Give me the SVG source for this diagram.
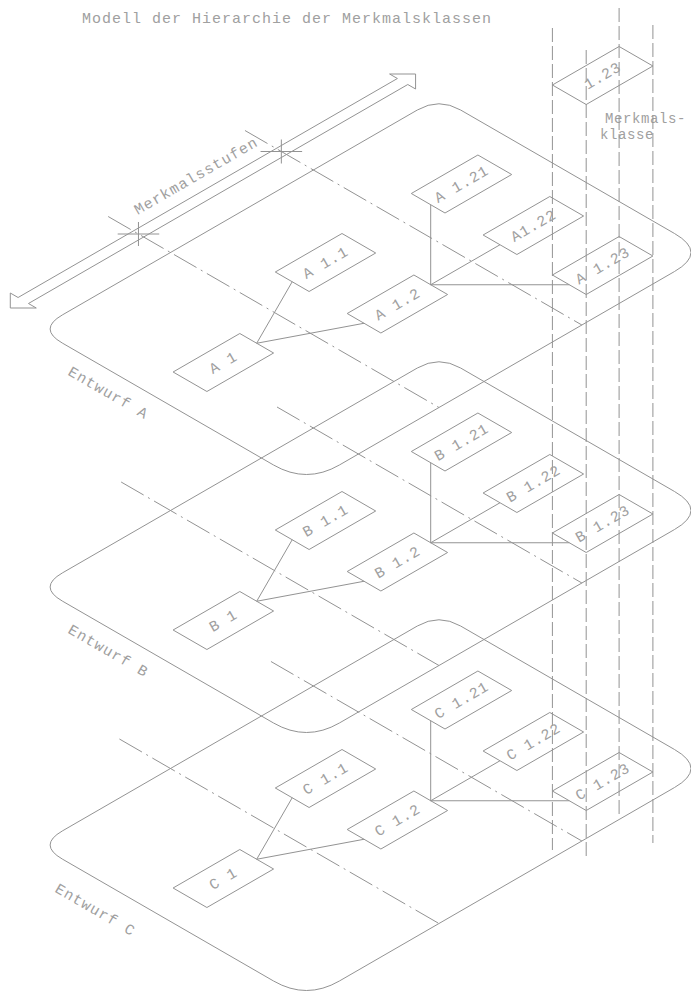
<svg xmlns="http://www.w3.org/2000/svg" width="691" height="991" viewBox="0 0 691 991">
<defs>
<style>
.ln{fill:none;stroke:#939393;stroke-width:1}
.pl{fill:none;stroke:#939393;stroke-width:1;vector-effect:non-scaling-stroke}
.dd{fill:none;stroke:#939393;stroke-width:1;stroke-dasharray:26 5 2 5;vector-effect:non-scaling-stroke}
.vd{fill:none;stroke:#939393;stroke-width:1;stroke-dasharray:14 4}
.tx{font-family:"Liberation Mono","DejaVu Sans Mono",monospace;font-size:15px;fill:#a0a0a0;letter-spacing:1px}
.nt{font-family:"Liberation Mono","DejaVu Sans Mono",monospace;font-size:15px;fill:#a0a0a0;letter-spacing:1px;text-anchor:middle}
</style>
</defs>
<rect width="691" height="991" fill="#ffffff"/>
<text class="tx" x="82" y="23">Modell der Hierarchie der Merkmalsklassen</text>

<!-- planes -->
<g id="planeA-outline" transform="matrix(0.866025,-0.5,0.866025,0.5,38,329)">
<path class="pl" d="M28,0 L438,0 Q463,0 463,25 L463,272 Q463,310 425,310 L38,310 Q0,310 0,272 L0,28 Q0,0 28,0 Z"/>
<line class="dd" x1="153" y1="-72" x2="153" y2="310"/>
<line class="dd" x1="318" y1="-79" x2="318" y2="310"/>
<path class="pl" d="M5,-37 L20,-52 L20,-43 L458,-43 L458,-52 L473,-37 L458,-22 L458,-31 L20,-31 L20,-22 Z"/>
<path class="pl" d="M141,-49 L165,-25 M141,-25 L165,-49 M306,-49 L330,-25 M306,-25 L330,-49"/>
</g>
<g id="planeB-outline" transform="matrix(0.866025,-0.5,0.866025,0.5,38,587)">
<path class="pl" d="M28,0 L438,0 Q463,0 463,25 L463,272 Q463,310 425,310 L38,310 Q0,310 0,272 L0,28 Q0,0 28,0 Z"/>
<line class="dd" x1="153" y1="-57" x2="153" y2="310"/>
<line class="dd" x1="318" y1="-42" x2="318" y2="310"/>
</g>
<g id="planeC-outline" transform="matrix(0.866025,-0.5,0.866025,0.5,38,845)">
<path class="pl" d="M28,0 L438,0 Q463,0 463,25 L463,272 Q463,310 425,310 L38,310 Q0,310 0,272 L0,28 Q0,0 28,0 Z"/>
<line class="dd" x1="153" y1="-59" x2="153" y2="310"/>
<line class="dd" x1="318" y1="-49" x2="318" y2="310"/>
</g>

<text class="nt" x="198.5" y="180" transform="rotate(-30 198.5 180)">Merkmalsstufen</text>
<text class="nt" x="106" y="397" transform="rotate(30 106 397)">Entwurf A</text>
<text class="nt" x="106" y="655" transform="rotate(30 106 655)">Entwurf B</text>
<text class="nt" x="93" y="914" transform="rotate(30 93 914)">Entwurf C</text>
<text class="tx" x="605" y="123" style="font-size:14px;letter-spacing:0.6px">Merkmals-</text>
<text class="tx" x="600" y="139" style="font-size:14px;letter-spacing:0.6px">klasse</text>

<!-- vertical projection lines -->
<g id="guides">
<line class="vd" x1="552.4" y1="28" x2="552.4" y2="850"/>
<line class="vd" x1="586.2" y1="50" x2="586.2" y2="858"/>
<line class="vd" x1="619.1" y1="8" x2="619.1" y2="817"/>
<line class="vd" x1="652.9" y1="25" x2="652.9" y2="843"/>
</g>

<!-- connectors -->
<g id="connectors">
<g id="connA">
<path class="ln" d="M256.7,343.25 L292.2,281.75 M256.7,343.25 L364.1,323.25 M430.7,284.75 L430.7,204.75 M430.7,284.75 L500,244.75 M430.7,284.75 L569.3,284.75"/>
</g>
<g id="connB" transform="translate(0,258)">
<path class="ln" d="M256.7,343.25 L292.2,281.75 M256.7,343.25 L364.1,323.25 M430.7,284.75 L430.7,204.75 M430.7,284.75 L500,244.75 M430.7,284.75 L569.3,284.75"/>
</g>
<g id="connC" transform="translate(0,516)">
<path class="ln" d="M256.7,343.25 L292.2,281.75 M256.7,343.25 L364.1,323.25 M430.7,284.75 L430.7,204.75 M430.7,284.75 L500,244.75 M430.7,284.75 L569.3,284.75"/>
</g>
</g>

<!-- top class node -->
<g id="node-1.23">
<polygon class="ln" points="552.4,85 619.1,46.5 652.9,66 586.2,104.5"/>
<text class="nt" x="605.1" y="79.8" transform="rotate(-30 605.1 79.8)">1.23</text>
</g>

<!-- plane A nodes -->
<g id="planeA">
<g id="nodeA1"><polygon class="ln" points="173.1,372 239.8,333.5 273.6,353 206.9,391.5"/><text class="nt" x="225.8" y="366.8" transform="rotate(-30 225.8 366.8)">A 1</text></g>
<g id="nodeA1.1"><polygon class="ln" points="275.3,272 342,233.5 375.7,253 309.1,291.5"/><text class="nt" x="328" y="266.8" transform="rotate(-30 328 266.8)">A 1.1</text></g>
<g id="nodeA1.2"><polygon class="ln" points="347.2,313.5 413.9,275 447.6,294.5 380.9,333"/><text class="nt" x="399.9" y="308.3" transform="rotate(-30 399.9 308.3)">A 1.2</text></g>
<g id="nodeA1.21"><polygon class="ln" points="411.3,193.5 477.9,155 511.7,174.5 445,213"/><text class="nt" x="464" y="188.3" transform="rotate(-30 464 188.3)">A 1.21</text></g>
<g id="nodeA1.22"><polygon class="ln" points="483.1,235 549.8,196.5 583.6,216 516.9,254.5"/><text class="nt" x="535.9" y="229.8" transform="rotate(-30 535.9 229.8)">A1.22</text></g>
<g id="nodeA1.23"><polygon class="ln" points="552.4,275 619.1,236.5 652.9,256 586.2,294.5"/><text class="nt" x="605.1" y="269.8" transform="rotate(-30 605.1 269.8)">A 1.23</text></g>
</g>

<!-- plane B nodes -->
<g id="planeB" transform="translate(0,258)">
<g id="nodeB1"><polygon class="ln" points="173.1,372 239.8,333.5 273.6,353 206.9,391.5"/><text class="nt" x="225.8" y="366.8" transform="rotate(-30 225.8 366.8)">B 1</text></g>
<g id="nodeB1.1"><polygon class="ln" points="275.3,272 342,233.5 375.7,253 309.1,291.5"/><text class="nt" x="328" y="266.8" transform="rotate(-30 328 266.8)">B 1.1</text></g>
<g id="nodeB1.2"><polygon class="ln" points="347.2,313.5 413.9,275 447.6,294.5 380.9,333"/><text class="nt" x="399.9" y="308.3" transform="rotate(-30 399.9 308.3)">B 1.2</text></g>
<g id="nodeB1.21"><polygon class="ln" points="411.3,193.5 477.9,155 511.7,174.5 445,213"/><text class="nt" x="464" y="188.3" transform="rotate(-30 464 188.3)">B 1.21</text></g>
<g id="nodeB1.22"><polygon class="ln" points="483.1,235 549.8,196.5 583.6,216 516.9,254.5"/><text class="nt" x="535.9" y="229.8" transform="rotate(-30 535.9 229.8)">B 1.22</text></g>
<g id="nodeB1.23"><polygon class="ln" points="552.4,275 619.1,236.5 652.9,256 586.2,294.5"/><text class="nt" x="605.1" y="269.8" transform="rotate(-30 605.1 269.8)">B 1.23</text></g>
</g>

<!-- plane C nodes -->
<g id="planeC" transform="translate(0,516)">
<g id="nodeC1"><polygon class="ln" points="173.1,372 239.8,333.5 273.6,353 206.9,391.5"/><text class="nt" x="225.8" y="366.8" transform="rotate(-30 225.8 366.8)">C 1</text></g>
<g id="nodeC1.1"><polygon class="ln" points="275.3,272 342,233.5 375.7,253 309.1,291.5"/><text class="nt" x="328" y="266.8" transform="rotate(-30 328 266.8)">C 1.1</text></g>
<g id="nodeC1.2"><polygon class="ln" points="347.2,313.5 413.9,275 447.6,294.5 380.9,333"/><text class="nt" x="399.9" y="308.3" transform="rotate(-30 399.9 308.3)">C 1.2</text></g>
<g id="nodeC1.21"><polygon class="ln" points="411.3,193.5 477.9,155 511.7,174.5 445,213"/><text class="nt" x="464" y="188.3" transform="rotate(-30 464 188.3)">C 1.21</text></g>
<g id="nodeC1.22"><polygon class="ln" points="483.1,235 549.8,196.5 583.6,216 516.9,254.5"/><text class="nt" x="535.9" y="229.8" transform="rotate(-30 535.9 229.8)">C 1.22</text></g>
<g id="nodeC1.23"><polygon class="ln" points="552.4,275 619.1,236.5 652.9,256 586.2,294.5"/><text class="nt" x="605.1" y="269.8" transform="rotate(-30 605.1 269.8)">C 1.23</text></g>
</g>
</svg>
